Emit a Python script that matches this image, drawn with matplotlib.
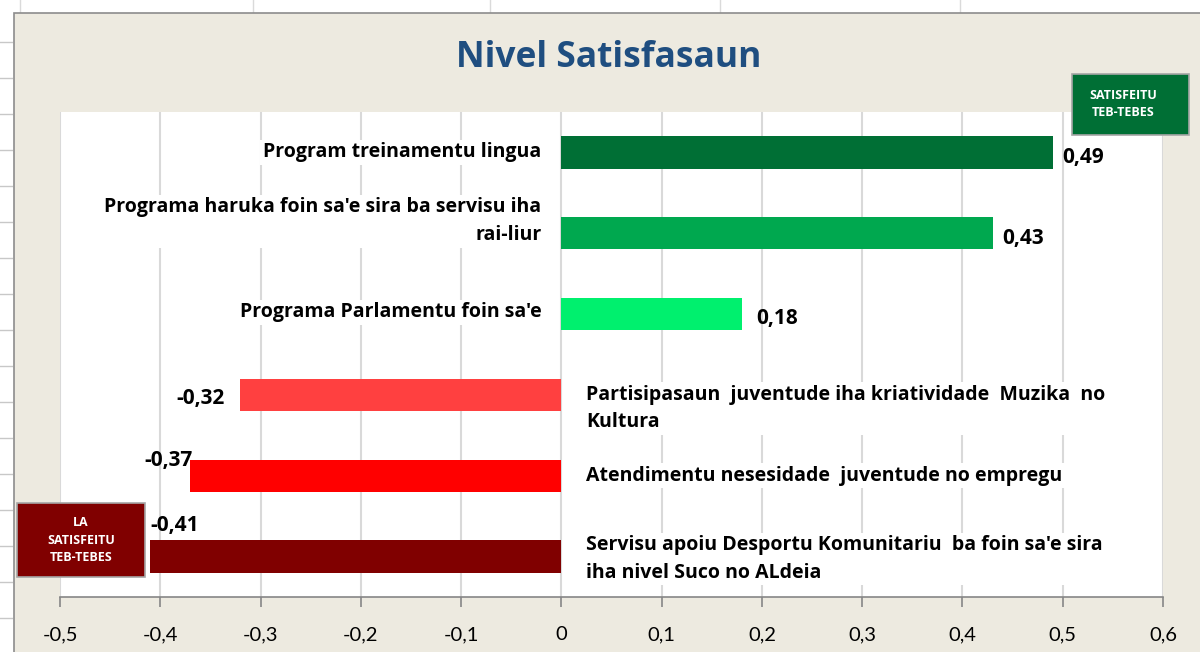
import matplotlib.pyplot as plt
from matplotlib.patches import Rectangle

# dados
categories = [
    "Program treinamentu lingua",
    "Programa haruka foin sa'e sira ba servisu iha\nrai-liur",
    "Programa Parlamentu foin sa'e",
    "Partisipasaun  juventude iha kriatividade  Muzika  no\nKultura",
    "Atendimentu nesesidade  juventude no empregu",
    "Servisu apoiu Desportu Komunitariu  ba foin sa'e sira\niha nivel Suco no ALdeia",
]
values = [0.49, 0.43, 0.18, -0.32, -0.37, -0.41]
bar_colors = ['#006F35', '#00A84F', '#00F06E', '#FF4040', '#FF0000', '#800000']
x_ticks = [-0.5, -0.4, -0.3, -0.2, -0.1, 0, 0.1, 0.2, 0.3, 0.4, 0.5, 0.6]
x_tick_labels = ['-0,5', '-0,4', '-0,3', '-0,2', '-0,1', '0', '0,1', '0,2', '0,3', '0,4', '0,5', '0,6']

beige = '#EDEAE0'
font = 'Open Sans'
W, H = 1200, 652


def fx(px):
    return px / W


def fy(py):
    return 1 - py / H


fig = plt.figure(figsize=(12, 6.52), dpi=100, facecolor='white')

# moldura do gráfico (estilo planilha)
fig.patches.append(Rectangle((fx(14), -0.01), 1.0, fy(13) + 0.01, transform=fig.transFigure,
                             facecolor=beige, edgecolor='#8C8C8C', linewidth=1.2, zorder=-10))
for yy in range(42, 652, 36):
    fig.add_artist(plt.Line2D([0, fx(12)], [fy(yy)] * 2, transform=fig.transFigure,
                              color='#C8C8C8', linewidth=1, zorder=-10))
for xx in [20, 253, 490, 720, 960]:
    fig.add_artist(plt.Line2D([fx(xx)] * 2, [fy(12), 1], transform=fig.transFigure,
                              color='#DADADA', linewidth=1, zorder=-10))

ax = fig.add_axes([fx(60), fy(597), fx(1163 - 60), (597 - 112) / H])
ax.set_facecolor('white')

pos = list(range(len(values)))
ax.barh(pos, values, height=0.4, color=bar_colors, zorder=3)

ax.set_xlim(-0.5, 0.6)
ax.set_ylim(5.5, -0.5)
ax.set_xticks(x_ticks)
ax.set_xticklabels(x_tick_labels, fontsize=14.5, family='Lato')
ax.set_yticks([])
ax.grid(axis='x', color='#D9D9D9', linewidth=1.5, zorder=0)
ax.set_axisbelow(True)
for s in ['left', 'top', 'right']:
    ax.spines[s].set_visible(False)
ax.spines['bottom'].set_color('#868686')
ax.spines['bottom'].set_linewidth(1.2)
ax.tick_params(axis='x', length=7, width=1.2, color='#868686', pad=14)

# rótulos das categorias
label_offsets = [0, -0.15, -0.02, 0.17, 0, 0.03]
for i, (cat, v) in enumerate(zip(categories, values)):
    if v >= 0:
        ax.text(-0.02, i + label_offsets[i], cat, ha='right', va='center', fontsize=14,
                fontweight='bold', family=font, linespacing=1.5, zorder=4,
                bbox=dict(facecolor='white', edgecolor='none', pad=2))
    else:
        ax.text(0.025, i + label_offsets[i], cat, ha='left', va='center', fontsize=14,
                fontweight='bold', family=font, linespacing=1.5, zorder=4,
                bbox=dict(facecolor='white', edgecolor='none', pad=2))

# rótulos dos valores
value_place = [
    (0.01, 0.06, 'left'),
    (0.01, 0.07, 'left'),
    (0.014, 0.06, 'left'),
    (-0.016, 0.05, 'right'),
    (0.002, -0.19, 'right'),
    (0.0, -0.38, 'left'),
]
for i, v in enumerate(values):
    dx, dy, ha = value_place[i]
    ax.text(v + dx, i + dy, f'{v:.2f}'.replace('.', ','), ha=ha, va='center', fontsize=15,
            fontweight='bold', family=font, zorder=5)

# título
fig.text(fx(609), fy(58), 'Nivel Satisfasaun', ha='center', va='center', fontsize=25.5,
         fontweight='bold', color='#1F4E80', family=font)

# caixas de legenda
fig.patches.append(Rectangle((fx(1072), fy(135)), fx(117), 61 / H, transform=fig.transFigure,
                             facecolor='#006F35', edgecolor='#A6A6A6', linewidth=1.2, zorder=5))
fig.text(fx(1123), fy(104), 'SATISFEITU\nTEB-TEBES', ha='center', va='center', fontsize=9,
         fontweight='bold', color='white', family=font, linespacing=1.4, zorder=6)
fig.patches.append(Rectangle((fx(17), fy(577)), fx(128), 74 / H, transform=fig.transFigure,
                             facecolor='#800000', edgecolor='#A6A6A6', linewidth=1.2, zorder=5))
fig.text(fx(81), fy(540), 'LA\nSATISFEITU\nTEB-TEBES', ha='center', va='center', fontsize=9,
         fontweight='bold', color='white', family=font, linespacing=1.45, zorder=6)

plt.savefig('out.png', dpi=100, facecolor=fig.get_facecolor())
